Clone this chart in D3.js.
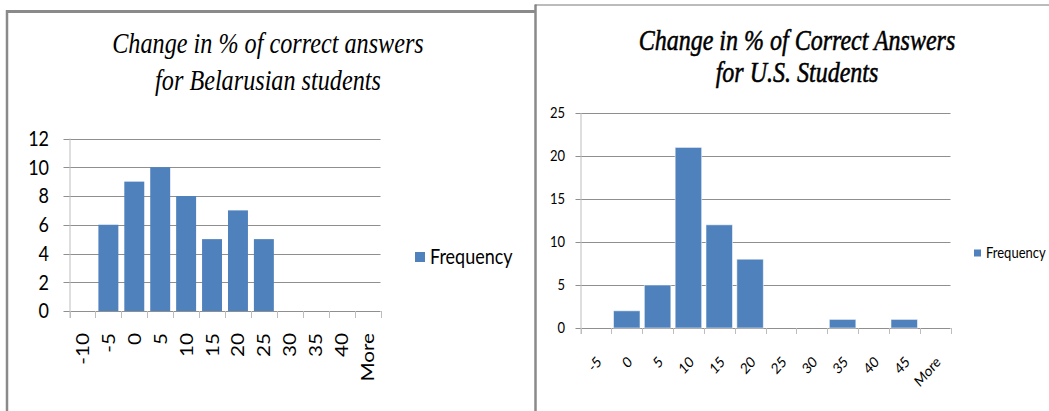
<!DOCTYPE html>
<html>
<head>
<meta charset="utf-8">
<script src="https://cdn.jsdelivr.net/npm/d3@7"></script>
<style>
  html, body { margin: 0; padding: 0; background: #ffffff; }
  svg { display: block; }
</style>
</head>
<body>
<svg id="chart" width="1049" height="411"></svg>
<script>
// Histogram of change in % correct answers, Belarusian students
const byCategories = ["-10", "-5", "0", "5", "10", "15", "20", "25", "30", "35", "40", "More"];
const byFrequency  = [0, 6, 9, 10, 8, 5, 7, 5, 0, 0, 0, 0];
const byTicks      = [0, 2, 4, 6, 8, 10, 12];
const byTitle      = ["Change in % of correct answers", "for Belarusian students"];

// Histogram of change in % correct answers, U.S. students
const usCategories = ["-5", "0", "5", "10", "15", "20", "25", "30", "35", "40", "45", "More"];
const usFrequency  = [0, 2, 5, 21, 12, 8, 0, 0, 1, 0, 1, 0];
const usTicks      = [0, 5, 10, 15, 20, 25];
const usTitle      = ["Change in % of Correct Answers", "for U.S. Students"];

const legendLabel = "Frequency";

const BAR = "#4f81bd";
const GRID = "#8f8f8f";
const AXIS = "#bdbdbd";
const FRAME = "#8a8a8a";
const K = 1.15;               // glyphs are drawn slightly tall
const SANS = "Lato, 'Open Sans', sans-serif";
const SERIF = "'Liberation Serif', 'DejaVu Serif', serif";

const svg = d3.select("#chart");

// panel frames
svg.append("line").attr("x1", 7).attr("x2", 7).attr("y1", 10).attr("y2", 411)
  .attr("stroke", FRAME).attr("stroke-width", 2.5);
svg.append("line").attr("x1", 6).attr("x2", 535).attr("y1", 11.5).attr("y2", 11.5)
  .attr("stroke", FRAME).attr("stroke-width", 3);
svg.append("line").attr("x1", 535.5).attr("x2", 535.5).attr("y1", 4.5).attr("y2", 411)
  .attr("stroke", FRAME).attr("stroke-width", 2.5);
svg.append("line").attr("x1", 535).attr("x2", 1049).attr("y1", 5).attr("y2", 5)
  .attr("stroke", "#7a7a7a").attr("stroke-width", 1.2);

function tallText(g, x, y, rot, str, opts, k) {
  const t = g.append("text")
    .attr("transform", `translate(${x},${y}) scale(1,${k || K})` + (rot ? ` rotate(${rot})` : ""))
    .text(str);
  Object.entries(opts).forEach(([a, v]) => t.attr(a, v));
  return t;
}

function drawPanel(cfg) {
  const g = svg.append("g");

  const x = d3.scaleBand().domain(cfg.categories).range([cfg.left, cfg.right]).padding(0);
  const y = d3.scaleLinear().domain([0, d3.max(cfg.ticks)]).range([cfg.bottom, cfg.top]);

  // title
  cfg.title.forEach((line, i) => {
    tallText(g, cfg.titleX, cfg.titleY[i], 0, line, {
      "text-anchor": "middle", "font-family": SERIF, "font-style": "italic",
      "font-size": cfg.titleSize, fill: "#000",
      stroke: "#000", "stroke-width": cfg.titleStroke
    }, 1.2);
  });

  // horizontal gridlines
  g.append("g").selectAll("line").data(cfg.ticks).join("line")
    .attr("x1", cfg.left - cfg.tickLen).attr("x2", cfg.right)
    .attr("y1", d => Math.round(y(d)) + 0.5).attr("y2", d => Math.round(y(d)) + 0.5)
    .attr("stroke", GRID).attr("stroke-width", 1);

  // vertical axis line
  g.append("line").attr("x1", cfg.left + 0.5).attr("x2", cfg.left + 0.5)
    .attr("y1", y(d3.max(cfg.ticks))).attr("y2", cfg.bottom + cfg.tickLen + 1)
    .attr("stroke", AXIS).attr("stroke-width", 1);

  // category boundary ticks
  const bounds = cfg.categories.map(c => x(c)).concat([cfg.right]);
  g.append("g").selectAll("line").data(bounds).join("line")
    .attr("x1", d => Math.round(d) + 0.5).attr("x2", d => Math.round(d) + 0.5)
    .attr("y1", cfg.bottom).attr("y2", cfg.bottom + cfg.tickLen + 1)
    .attr("stroke", AXIS).attr("stroke-width", 1);

  // bars
  const bw = x.bandwidth() * cfg.barRatio;
  g.append("g").selectAll("rect").data(cfg.values.map((v, i) => ({ c: cfg.categories[i], v })))
    .join("rect")
    .attr("x", d => x(d.c) + (x.bandwidth() - bw) / 2)
    .attr("width", bw)
    .attr("y", d => y(d.v))
    .attr("height", d => y(0) - y(d.v))
    .attr("fill", BAR)
    .attr("stroke", cfg.barStroke).attr("stroke-width", 1);

  // y tick labels
  cfg.ticks.forEach(t => {
    tallText(g, cfg.yLabelX, y(t), 0, String(t), {
      "text-anchor": "end", dy: "0.36em", "font-family": SANS,
      "font-size": cfg.yFont, fill: "#000"
    });
  });

  // x tick labels
  cfg.categories.forEach(c => {
    const cx = x(c) + x.bandwidth() / 2 + cfg.xLabelDx;
    tallText(g, cx, cfg.xLabelY, cfg.xRot, c, {
      "text-anchor": "end", dy: "0.36em", "font-family": SANS,
      "font-size": cfg.xFont, fill: "#000"
    });
  });

  // legend
  g.append("rect").attr("x", cfg.legX).attr("y", cfg.legY - cfg.legBox / 2)
    .attr("width", cfg.legBox).attr("height", cfg.legBox).attr("fill", BAR);
  tallText(g, cfg.legX + cfg.legBox + cfg.legGap, cfg.legY, 0, legendLabel, {
    dy: "0.36em", "font-family": SANS, "font-size": cfg.legFont, fill: "#000"
  });
}

drawPanel({
  categories: byCategories, values: byFrequency, ticks: byTicks, title: byTitle,
  left: 69.5, right: 380.5, top: 138.5, bottom: 311, tickLen: 6, barRatio: 0.77,
  barStroke: "none",
  titleX: 268, titleY: [53, 90], titleSize: 24.2, titleStroke: 0,
  yLabelX: 49, yFont: 18,
  xLabelY: 333, xLabelDx: 0, xRot: -90, xFont: 18,
  legX: 415, legY: 257, legBox: 10, legGap: 5, legFont: 18
});

drawPanel({
  categories: usCategories, values: usFrequency, ticks: usTicks, title: usTitle,
  left: 580.5, right: 950.5, top: 113, bottom: 328, tickLen: 5, barRatio: 0.86,
  barStroke: "rgba(255,255,255,0.55)",
  titleX: 797, titleY: [50, 82], titleSize: 24, titleStroke: 0.45,
  yLabelX: 565, yFont: 13,
  xLabelY: 359, xLabelDx: 3, xRot: -45, xFont: 13,
  legX: 974, legY: 253, legBox: 7, legGap: 5, legFont: 13
});
</script>
</body>
</html>
